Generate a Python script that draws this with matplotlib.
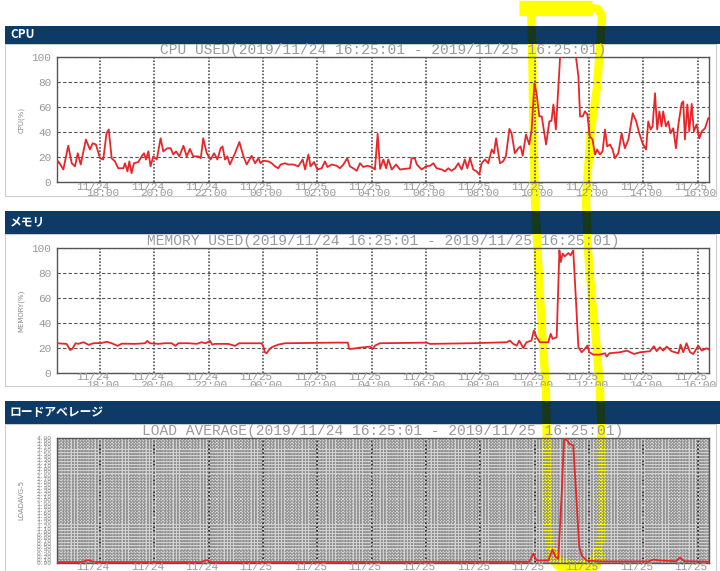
import matplotlib
matplotlib.use('Agg')
import matplotlib.pyplot as plt
import matplotlib.transforms as mtransforms
from matplotlib.patches import Rectangle
import numpy as np

# ---------------- data ----------------
t_start = 16 + 25/60 + 1/3600      # 11/24 16:25:01 (hours since 11/24 00:00)
t_end = 40 + 25/60 + 1/3600        # 11/25 16:25:01

tick_hours = [18, 20, 22, 24, 26, 28, 30, 32, 34, 36, 38, 40]
tick_dates = ['11/24', '11/24', '11/24', '11/25', '11/25', '11/25',
              '11/25', '11/25', '11/25', '11/25', '11/25', '11/25']
tick_times = ['18:00', '20:00', '22:00', '00:00', '02:00', '04:00',
              '06:00', '08:00', '10:00', '12:00', '14:00', '16:00']

panel_names = ['CPU', 'メモリ', 'ロードアベレージ']
chart_titles = ['CPU USED(2019/11/24 16:25:01 - 2019/11/25 16:25:01)',
                'MEMORY USED(2019/11/24 16:25:01 - 2019/11/25 16:25:01)',
                'LOAD AVERAGE(2019/11/24 16:25:01 - 2019/11/25 16:25:01)']
y_labels = ['CPU(%)', 'MEMORY(%)', 'LOADAVG-5']
pct_ticks = [0, 20, 40, 60, 80, 100]

cpu_hours = [16.42, 16.47, 16.65, 16.83, 16.96, 17.08, 17.18, 17.29, 17.48, 17.63,
             17.73, 17.85, 18.00, 18.12, 18.24, 18.32, 18.43, 18.55, 18.67, 18.86,
             18.92, 19.01, 19.08, 19.16, 19.25, 19.41, 19.53, 19.62, 19.69, 19.78,
             19.86, 19.96, 20.09, 20.23, 20.33, 20.48, 20.60, 20.70, 20.80, 20.92,
             21.07, 21.19, 21.31, 21.43, 21.62, 21.71, 21.80, 21.93, 22.07, 22.20,
             22.32, 22.44, 22.51, 22.60, 22.69, 22.78, 22.97, 23.13, 23.28, 23.40,
             23.58, 23.71, 23.83, 23.91, 24.01, 24.20, 24.32, 24.44, 24.56, 24.65,
             24.81, 24.93, 25.12, 25.30, 25.46, 25.55, 25.67, 25.75, 25.88, 26.00,
             26.16, 26.28, 26.37, 26.53, 26.71, 26.83, 26.96, 27.10, 27.20, 27.35,
             27.45, 27.57, 27.69, 27.84, 28.00, 28.12, 28.22, 28.31, 28.43, 28.53,
             28.61, 28.74, 28.90, 29.04, 29.23, 29.41, 29.47, 29.59, 29.66, 29.84,
             30.00, 30.15, 30.27, 30.39, 30.58, 30.70, 30.82, 30.94, 31.07, 31.19,
             31.31, 31.43, 31.52, 31.62, 31.74, 31.86, 31.96, 32.05, 32.17, 32.29,
             32.42, 32.50, 32.58, 32.72, 32.84, 32.94, 33.07, 33.15, 33.27, 33.40,
             33.48, 33.56, 33.68, 33.80, 33.89, 33.99, 34.07, 34.17, 34.26, 34.42,
             34.54, 34.62, 34.69, 34.78, 34.91, 34.96, 35.11, 35.36, 35.52, 35.61,
             35.67, 35.77, 35.85, 35.94, 36.03, 36.13, 36.22, 36.30, 36.40, 36.50,
             36.59, 36.67, 36.77, 36.87, 36.95, 37.08, 37.20, 37.32, 37.45, 37.61,
             37.73, 37.85, 37.97, 38.10, 38.18, 38.27, 38.34, 38.43, 38.51, 38.59,
             38.67, 38.73, 38.83, 38.92, 39.00, 39.10, 39.20, 39.29, 39.41, 39.47,
             39.53, 39.62, 39.69, 39.78, 39.86, 39.96, 40.06, 40.15, 40.27, 40.39,
             40.42]
cpu_values = [14, 16.5, 10, 29, 15, 12.5, 23, 14, 34, 26,
              31, 30, 19, 18, 39, 42, 19, 16.5, 11, 11,
              15, 8.5, 16.5, 7, 15, 16, 20.5, 23, 18, 24.5,
              12.5, 20.5, 18, 35, 24.5, 27, 27, 22, 24.5, 20.5,
              29, 20.5, 26.5, 20.5, 20.5, 19, 35, 23, 18, 23,
              18, 27, 28.5, 18, 20.5, 14, 23, 32, 20.5, 14,
              21, 15, 19, 15, 17, 16.5, 15, 12.5, 11, 14,
              15, 14, 14, 12.5, 18, 10, 22, 12.5, 16, 10,
              11, 16.5, 12, 14, 13, 11, 14, 19, 12.5, 10.5,
              9, 15, 12, 13, 12, 10, 38.5, 10.5, 18, 11,
              18, 10, 14, 10, 10.5, 11, 19, 19, 14, 10,
              12.5, 13, 15, 11, 10, 8.5, 11, 9, 11, 15,
              10, 18, 11, 19, 10, 8.5, 6, 15, 18, 15,
              26, 23, 35, 15, 16.5, 20.5, 42.5, 39, 23, 27,
              28.5, 21, 38, 30, 42, 79, 71, 52.5, 52.5, 30,
              48.5, 49, 62, 42, 90, 110, 110, 110, 100, 84.5,
              52.5, 52.5, 56.5, 54, 36.5, 34, 22, 26, 22, 24.5,
              42, 28.5, 30, 26, 19, 23, 39, 27, 34, 55,
              49, 39, 31, 26, 48.5, 42, 44.5, 71, 42, 56.5,
              44.5, 56.5, 44.5, 48.5, 39, 43, 27, 46, 63, 64.5,
              34, 62, 40.5, 62.5, 40.5, 46, 35, 40.5, 43, 51,
              51]

mem_hours = [16.42, 16.77, 16.90, 16.98, 17.10, 17.20, 17.39, 17.59, 17.75, 18.06,
             18.25, 18.43, 18.65, 18.80, 19.29, 19.66, 19.74, 19.84, 20.15, 20.39,
             20.64, 20.78, 20.88, 21.25, 21.56, 21.74, 21.89, 22.05, 22.13, 22.23,
             22.72, 22.97, 23.12, 23.47, 23.95, 24.02, 24.07, 24.13, 24.20, 24.32,
             24.56, 24.81, 26.65, 27.12, 27.17, 27.26, 27.57, 27.94, 28.04, 28.12,
             28.30, 30.02, 30.15, 31.62, 32.97, 33.09, 33.21, 33.34, 33.43, 33.58,
             33.70, 33.88, 33.97, 34.07, 34.19, 34.38, 34.50, 34.59, 34.66, 34.81,
             34.91, 34.96, 35.03, 35.11, 35.24, 35.32, 35.42, 35.52, 35.61, 35.73,
             35.81, 35.94, 36.01, 36.16, 36.40, 36.59, 36.65, 36.75, 37.14, 37.39,
             37.66, 37.88, 38.24, 38.39, 38.49, 38.61, 38.73, 38.86, 39.04, 39.29,
             39.37, 39.47, 39.59, 39.72, 39.84, 40.02, 40.15, 40.33, 40.42]
mem_values = [23.8, 23.3, 18.4, 19.3, 23.8, 23.3, 24.6, 22.5, 23.8, 24.0,
              25.0, 23.8, 21.7, 23.5, 23.3, 23.8, 25.7, 23.8, 23.3, 23.8,
              23.8, 21.7, 23.8, 23.8, 23.3, 24.6, 23.8, 25.7, 22.7, 23.3,
              23.3, 21.7, 23.8, 23.8, 23.8, 20.6, 16.6, 15.8, 17.9, 20.6,
              22.7, 23.8, 24.3, 24.3, 19.3, 19.3, 20.3, 21.1, 19.3, 21.9,
              23.8, 24.3, 23.3, 23.8, 24.6, 25.9, 23.3, 21.9, 25.9, 20.0,
              24.6, 25.9, 34.0, 28.6, 24.6, 24.6, 24.6, 31.3, 27.3, 28.6,
              98.1, 88.8, 95.5, 93.3, 96.0, 94.1, 98.1, 58.0, 20.6, 16.6,
              18.4, 21.9, 16.6, 14.7, 14.7, 15.8, 13.1, 15.8, 16.6, 17.9,
              15.2, 16.6, 17.4, 21.4, 17.4, 20.6, 17.9, 21.1, 17.4, 15.8,
              22.7, 16.6, 23.8, 16.6, 15.2, 21.9, 17.9, 19.8, 18.7]

load_hours = [16.42, 17.30, 17.57, 17.80, 21.70, 21.93, 22.10, 33.80, 33.95, 34.07,
              34.50, 34.66, 34.76, 34.87, 35.00, 35.08, 35.20, 35.27, 35.42, 35.52,
              35.64, 35.73, 35.91, 36.50, 38.20, 38.37, 38.60, 39.20, 39.35, 39.50,
              40.42]
load_values = [0.03, 0.03, 0.09, 0.03, 0.03, 0.09, 0.03, 0.04, 0.30, 0.08,
               0.08, 0.43, 0.20, 0.14, 2.32, 3.98, 3.92, 3.82, 3.76, 2.32,
               0.52, 0.24, 0.08, 0.05, 0.05, 0.11, 0.08, 0.06, 0.17, 0.06,
               0.04]
load_max = 4.0
load_step = 0.1

series_hours = [cpu_hours, mem_hours, load_hours]
series_values = [cpu_values, mem_values, load_values]

# ---------------- layout ----------------
W, H = 720, 571
fig = plt.figure(figsize=(W / 100, H / 100), dpi=100)

NAVY = '#0d3a66'
YELLOW = '#ffff00'
DARKGREEN = '#16391b'
RED = '#e8262a'
MONO = 'Liberation Mono'
JP = ['Noto Sans CJK JP', 'DejaVu Sans']

headers = [(26, 18), (211, 23), (401, 23)]        # (top, height) px
panels = [(44, 152), (234, 152), (424, 150)]      # (top, height) px
plot_tops = [57, 248, 438]
plot_left, plot_w, plot_h = 57, 652, 125

bg = fig.add_axes([0, 0, 1, 1], zorder=-10)
bg.set_xlim(0, W)
bg.set_ylim(H, 0)
bg.axis('off')

for (pt, ph) in panels:
    bg.add_patch(Rectangle((5, pt), 711, ph, facecolor='white',
                           edgecolor='#cccccc', lw=0.8, zorder=1))
# light grey tone behind the dense load-average grid
bg.add_patch(Rectangle((plot_left, plot_tops[2]), plot_w, plot_h,
                       facecolor='#d2d2d2', edgecolor='none', zorder=1.5))

# yellow freehand highlight (annotation)
hl_x = [531, 532, 533, 534, 535, 538, 542, 546, 547, 547, 550, 560, 578, 594,
        601, 602, 601, 600, 596, 592, 588, 586, 588, 591, 597, 600, 602, 598, 585]
hl_y = [6, 40, 100, 160, 200, 260, 330, 390, 460, 520, 548, 562, 565, 560,
        540, 480, 420, 390, 340, 300, 250, 200, 170, 130, 87, 47, 16, 9, 7]
strokes = [(hl_x, hl_y, 6.0, 'round'),
           ([519, 592], [8, 8], 11.0, 'butt'),
           ([552, 560, 578, 594, 599], [556, 565, 568, 565, 556], 9.0, 'round')]
for sx, sy, lw, cap in strokes:
    bg.plot(sx, sy, color=YELLOW, lw=lw, solid_capstyle=cap,
            solid_joinstyle='round', zorder=2)

for i, (hy, hh) in enumerate(headers):
    rect = Rectangle((5, hy), W - 5, hh, facecolor=NAVY, edgecolor='none', zorder=3)
    bg.add_patch(rect)
    for sx, sy, lw, cap in strokes:
        ln, = bg.plot(sx, sy, color=DARKGREEN, lw=lw, solid_capstyle=cap,
                      solid_joinstyle='round', zorder=4)
        ln.set_clip_path(rect)
    bg.text(10, hy + hh / 2, panel_names[i], color='white', fontsize=8.5,
            fontweight='bold', family=JP, ha='left', va='center', zorder=5)

# ---------------- charts ----------------
for i in range(3):
    top = plot_tops[i]
    ax = fig.add_axes([plot_left / W, 1 - (top + plot_h) / H, plot_w / W, plot_h / H])
    ax.set_facecolor('none')
    ax.set_xlim(t_start, t_end)
    for s in ax.spines.values():
        s.set_color('#555555')
        s.set_linewidth(1.0)

    if i < 2:
        ax.set_ylim(0, 100)
        ax.set_yticks(pct_ticks)
        ax.set_yticklabels([str(v) for v in pct_ticks], family=MONO, fontsize=8,
                           color='#999999')
        ax.grid(axis='y', color='#555555', linestyle=(0, (3, 2)), lw=0.8)
        ax.set_xticks(tick_hours)
        ax.grid(axis='x', color='#555555', linestyle=(0, (1, 1)), lw=1.2)
    else:
        ax.set_ylim(0, load_max)
        lt = np.arange(0, load_max + 1e-9, load_step)
        ax.set_yticks(lt)
        ax.set_yticklabels(['%.2f' % v for v in lt], family=MONO, fontsize=4.5,
                           color='#888888')
        ax.set_xticks(tick_hours)
        ax.set_xticks(np.arange(16.5, t_end, 0.125), minor=True)
        ax.grid(axis='y', which='major', color='#8a8a8a', linestyle=(0, (1, 0.8)), lw=1.2)
        ax.grid(axis='x', which='minor', color='#8a8a8a', linestyle=(0, (1, 0.8)), lw=1.2)
        ax.grid(axis='x', which='major', color='#333333', linestyle=(0, (1, 1)), lw=1.4)
    ax.set_axisbelow(True)
    ax.tick_params(axis='both', which='both', length=0)
    ax.tick_params(axis='y', pad=4)
    ax.set_xticklabels([])

    ax.plot(series_hours[i], series_values[i], color=RED, lw=1.3, zorder=3,
            solid_joinstyle='round')

    ax.set_title(chart_titles[i], family=MONO, fontsize=10.5, color='#9a9a9a',
                 pad=1.5)

    pt, ph = panels[i]
    clip = mtransforms.Bbox([[5, H - (pt + ph)], [716, H - pt]])
    for h, d, t in zip(tick_hours, tick_dates, tick_times):
        for txt, dx, dy in [(d, -7, -4.5), (t, 2.5, -11.5)]:
            tr = ax.get_xaxis_transform() + mtransforms.ScaledTranslation(
                dx / 100, dy / 100, fig.dpi_scale_trans)
            tx = ax.text(h, 0, txt, transform=tr, ha='center', va='center',
                         family=MONO, fontsize=8, color='#999999')
            tx.set_clip_box(clip)
            tx.set_clip_on(True)

    fig.text(21 / W, 1 - (top + plot_h / 2) / H, y_labels[i], rotation=90,
             fontsize=5, color='#888888', ha='center', va='center')

fig.savefig('out.png', dpi=100)
